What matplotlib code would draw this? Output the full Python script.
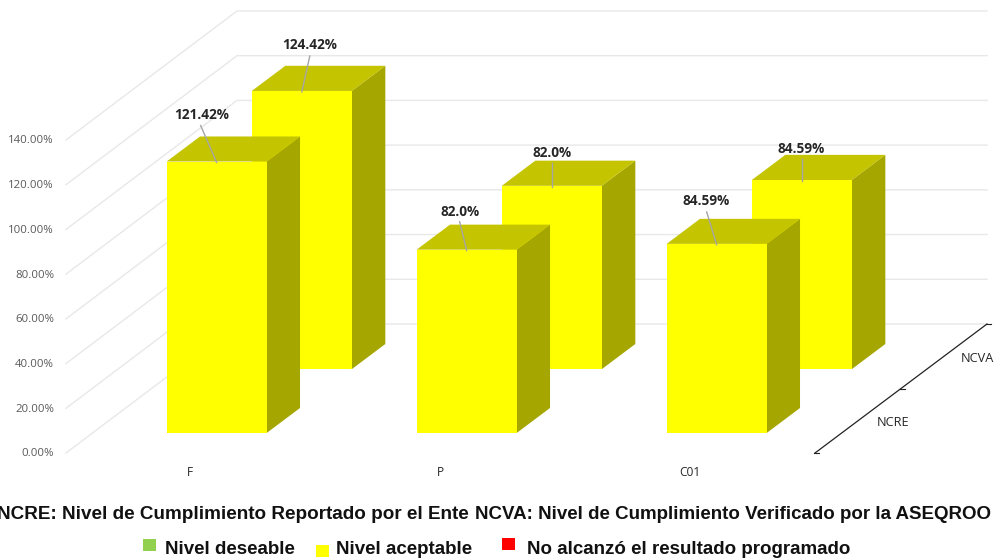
import matplotlib
matplotlib.use("Agg")
import matplotlib.pyplot as plt
from matplotlib.patches import Polygon, Rectangle

# ---- data ----
categories = ["F", "P", "C01"]
series_names = ["NCRE", "NCVA"]
ncre_values = [121.42, 82.0, 84.59]
ncva_values = [124.42, 82.0, 84.59]
ncre_labels = ["121.42%", "82.0%", "84.59%"]
ncva_labels = ["124.42%", "82.0%", "84.59%"]
tick_values = [0, 20, 40, 60, 80, 100, 120, 140]
tick_labels = ["0.00%", "20.00%", "40.00%", "60.00%", "80.00%", "100.00%", "120.00%", "140.00%"]
note_left = "NCRE: Nivel de Cumplimiento Reportado por el Ente"
note_right = "NCVA: Nivel de Cumplimiento Verificado por la ASEQROO"
legend_names = ["Nivel deseable", "Nivel aceptable", "No alcanzó el resultado programado"]
legend_colors = ["#92D050", "#FFFF00", "#FF0000"]

# ---- layout: oblique projection, in pixels ----
X0, Y0 = 65.0, 453.0
CAT_W = 250.0
V_SCALE = 2.236
DEPTH_X, DEPTH_Y = 172.0, 129.0
BAR_W = 0.4
ROWS = [(0.155, 0.349), (0.65, 0.845)]

FRONT, TOP, SIDE = "#FFFF00", "#C4C400", "#A6A600"
GRID = "#E8E8E8"
TICK_C = "#595959"
LABEL_C = "#262626"
LEAD_C = "#A6A6A6"


def project(u, v, d):
    """category units, value (%), depth 0..1 -> pixel position"""
    return (X0 + u * CAT_W + d * DEPTH_X, Y0 - v * V_SCALE - d * DEPTH_Y)


fig = plt.figure(figsize=(9.95, 5.58), dpi=100)
ax = fig.add_axes([0, 0, 1, 1])
ax.set_xlim(0, 995)
ax.set_ylim(558, 0)
ax.axis("off")

# walls
ncat = len(categories)
for t, lab in zip(tick_values, tick_labels):
    a = project(0, t, 0)
    b = project(0, t, 1)
    c = project(ncat, t, 1)
    ax.plot([a[0] + 1, b[0], c[0]], [a[1], b[1], c[1]], color=GRID, lw=1.0, zorder=1,
            solid_joinstyle="miter")
    ax.text(54, a[1] + 1, lab, ha="right", va="center", fontsize=8.2, color=TICK_C,
            family="Open Sans")


def bar(u, v, d0, d1, z):
    l, r = u + 0.5 - BAR_W / 2, u + 0.5 + BAR_W / 2
    ax.add_patch(Polygon([project(l, 0, d0), project(r, 0, d0), project(r, v, d0), project(l, v, d0)],
                         fc=FRONT, ec="none", zorder=z + 0.2))
    ax.add_patch(Polygon([project(l, v, d0), project(r, v, d0), project(r, v, d1), project(l, v, d1)],
                         fc=TOP, ec="none", zorder=z + 0.1))
    ax.add_patch(Polygon([project(r, 0, d0), project(r, 0, d1), project(r, v, d1), project(r, v, d0)],
                         fc=SIDE, ec="none", zorder=z))


for i in range(ncat):
    bar(i, ncva_values[i], ROWS[1][0], ROWS[1][1], 2)
for i in range(ncat):
    bar(i, ncre_values[i], ROWS[0][0], ROWS[0][1], 3)

# data labels with leader lines (offsets from the middle of each front top edge)
label_offsets = {
    0: [(-15, -47, -16, -36), (8, -46, 8, -35)],
    1: [(-7, -38, -7, -28), (0, -33, 0, -23)],
    2: [(-11, -43, -10, -32), (-1, -31, 0, -21)],
}
for i in range(ncat):
    for row, (vals, labs) in enumerate(((ncre_values, ncre_labels), (ncva_values, ncva_labels))):
        px, py = project(i + 0.5, vals[i], ROWS[row][0])
        ox, oy, lx, ly = label_offsets[i][row]
        ax.plot([px + lx, px], [py + ly, py + 1], color=LEAD_C, lw=1.0, zorder=5)
        ax.text(px + ox, py + oy, labs[i], ha="center", va="center", fontsize=9.8,
                fontweight="bold", color=LABEL_C, family="Open Sans", zorder=6)

# category labels
for i, c in enumerate(categories):
    px, py = project(i + 0.5, 0, 0)
    ax.text(px, py + 20, c, ha="center", va="center", fontsize=8.6, color=LABEL_C, family="Open Sans")

# depth axis
a = project(ncat, 0, 0)
b = project(ncat, 0, 1)
m = project(ncat, 0, 0.5)
ax.plot([a[0], b[0]], [a[1], b[1]], color="#222222", lw=0.9, zorder=4)
for p in (a, m, b):
    ax.plot([p[0] - 1, p[0] + 4], [p[1], p[1]], color="#222222", lw=0.8, zorder=4)
ax.text(893, 423, series_names[0], ha="center", va="center", fontsize=9.2, color=LABEL_C, family="Open Sans")
ax.text(961, 359, series_names[1], ha="left", va="center", fontsize=9.2, color=LABEL_C,
        family="Open Sans", clip_on=True)

# notes
ax.text(469, 514.5, note_left, ha="right", va="center", fontsize=13.6, fontweight="bold",
        color="#111111", family="Liberation Sans", clip_on=True)
ax.text(475, 514.5, note_right, ha="left", va="center", fontsize=13.5, fontweight="bold",
        color="#111111", family="Liberation Sans")

# colour key
key_x = [143, 316, 502]
key_y = [539, 545, 538]
text_x = [165, 336, 527]
for name, col, kx, ky, tx in zip(legend_names, legend_colors, key_x, key_y, text_x):
    ax.add_patch(Rectangle((kx, ky), 13, 12, fc=col, ec="none", zorder=5))
    ax.text(tx, 549.5, name, ha="left", va="center", fontsize=13.5, fontweight="bold",
            color="#111111", family="Liberation Sans")

fig.savefig("out.png", dpi=100, facecolor="white")
